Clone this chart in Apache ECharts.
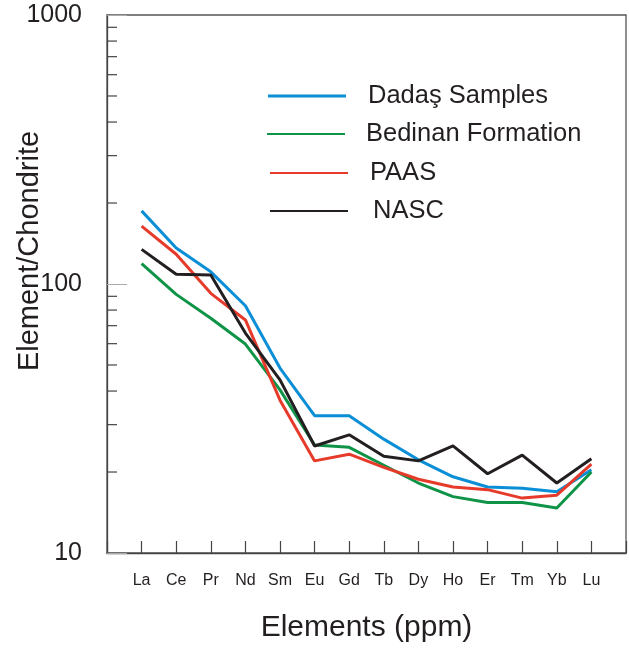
<!DOCTYPE html>
<html>
<head>
<meta charset="utf-8">
<script src="https://cdn.jsdelivr.net/npm/echarts@6/dist/echarts.min.js"></script>
<style>
  html, body { margin: 0; padding: 0; background: #fff; }
  #chart { width: 629px; height: 650px; }
</style>
</head>
<body>
<div id="chart"></div>
<script>
const elements = ['La', 'Ce', 'Pr', 'Nd', 'Sm', 'Eu', 'Gd', 'Tb', 'Dy', 'Ho', 'Er', 'Tm', 'Yb', 'Lu'];

const dadas   = [187, 136, 111, 83, 48.7, 32.4, 32.4, 26.5, 22.2, 19.2, 17.6, 17.4, 16.9, 20.4];
const bedinan = [119, 91.5, 74.6, 59.8, 40.4, 25.2, 24.7, 21.2, 18.2, 16.2, 15.4, 15.4, 14.7, 20.0];
const paas    = [164, 129, 92.3, 73.5, 37, 22.0, 23.3, 20.8, 18.8, 17.6, 17.2, 16.0, 16.4, 21.4];
const nasc    = [134.5, 108.7, 108, 65.7, 44, 25.0, 27.5, 22.9, 22.0, 25.0, 19.7, 23.1, 18.2, 22.4];

const yTicks = [10, 100, 1000];
const minorTicks = [20, 30, 40, 50, 60, 70, 80, 90, 200, 300, 400, 500, 600, 700, 800, 900];

const font = '"Liberation Sans", Arial, sans-serif';
const ink = '#231f20';

const chart = echarts.init(document.getElementById('chart'));

// one line series per dataset, x = element index
const lineSeries = (name, values, color) => ({
  name: name,
  type: 'line',
  symbol: 'none',
  data: values.map((v, i) => [i, v]),
  lineStyle: { color: color, width: 3 },
  itemStyle: { color: color }
});

// a legend per entry so each label can sit a bit differently
const legendItem = (name, left, top, h, pad) => ({
  data: [name],
  left: left,
  top: top,
  icon: 'rect',
  itemWidth: 78,
  itemHeight: h,
  selectedMode: false,
  textStyle: { fontFamily: font, fontSize: 25.5, color: ink, padding: pad }
});

const option = {
  animation: false,
  grid: {
    left: 107, right: 1, top: 15, bottom: 97,
    show: true,
    borderColor: '#555',
    borderWidth: 1.3
  },
  legend: [
    legendItem('Dadaş Samples', 263, 78, 3, [0, 0, 14, 17]),
    legendItem('Bedinan Formation', 262, 116, 2, [0, 0, 8, 16]),
    legendItem('PAAS', 265, 155, 2, [0, 0, 10, 17]),
    legendItem('NASC', 265, 193, 2, [0, 0, 16, 20])
  ],
  xAxis: {
    type: 'value',
    min: -1,
    max: 14,
    interval: 1,
    splitLine: { show: false },
    axisLine: { onZero: false, lineStyle: { color: '#444', width: 1.3 } },
    axisTick: { inside: true, length: 12, lineStyle: { color: '#444', width: 1.2 } },
    axisLabel: {
      margin: 20,
      fontFamily: font,
      fontSize: 16,
      color: ink,
      formatter: v => elements[v] || ''
    },
    name: 'Elements (ppm)',
    nameLocation: 'middle',
    nameGap: 60,
    nameTextStyle: { fontFamily: font, fontSize: 30, color: ink }
  },
  yAxis: {
    type: 'log',
    logBase: 10,
    min: yTicks[0],
    max: yTicks[yTicks.length - 1],
    splitLine: { show: false },
    axisLine: { onZero: false, lineStyle: { color: '#444', width: 1.3 } },
    axisTick: { inside: true, length: 20, lineStyle: { color: '#aaa', width: 1 } },
    axisLabel: {
      margin: 25,
      fontFamily: font,
      fontSize: 25,
      color: ink,
      formatter: v => String(Math.round(v))
    }
  },
  graphic: [{
    type: 'text',
    x: 30,
    y: 251,
    rotation: Math.PI / 2,
    style: {
      text: 'Element/Chondrite',
      fontFamily: font,
      fontSize: 29,
      fill: ink,
      align: 'center',
      verticalAlign: 'middle'
    }
  }],
  series: [
    {
      type: 'custom',
      silent: true,
      data: minorTicks.map(v => [-1, v]),
      renderItem: (params, api) => {
        const p = api.coord([api.value(0), api.value(1)]);
        return {
          type: 'line',
          shape: { x1: p[0], y1: p[1], x2: p[0] + 10, y2: p[1] },
          style: { stroke: '#444', lineWidth: 1.2 }
        };
      }
    },
    lineSeries('Dadaş Samples', dadas, '#0a8fd6'),
    lineSeries('Bedinan Formation', bedinan, '#0f9447'),
    lineSeries('PAAS', paas, '#e63b2b'),
    lineSeries('NASC', nasc, ink)
  ]
};

chart.setOption(option);
</script>
</body>
</html>
